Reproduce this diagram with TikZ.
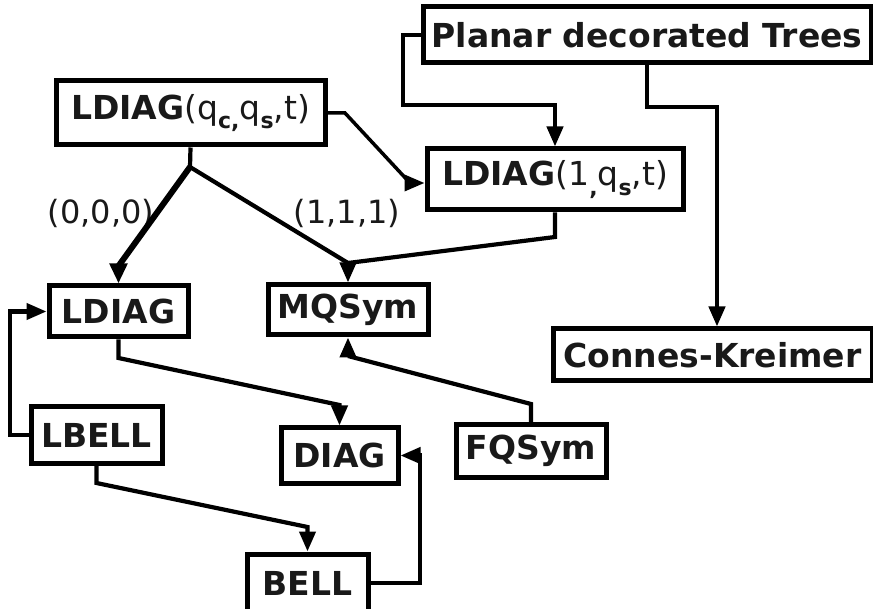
\documentclass[tikz,border=0pt]{standalone}
\usepackage{fontspec}
\setmainfont{DejaVu Sans}
\usetikzlibrary{arrows.meta}
\newcommand\mysubs[1]{\raisebox{-0.3em}{\fontsize{22}{24}\bfseries\selectfont #1}}
\begin{document}
\begin{tikzpicture}[x=1pt,y=-1pt,
  box/.style={draw,line width=5pt,inner sep=0pt,text=black!90,
    font=\fontsize{33}{40}\bfseries\selectfont},
  lab/.style={inner sep=0pt,text=black!90,font=\fontsize{32}{38}\selectfont},
  conn/.style={line width=4.2pt,line join=miter},
  arr/.style={conn,-{Triangle[length=20pt,width=16pt]}},
  fat/.style={line width=6pt,-{Triangle[length=20pt,width=17pt]}}]
\clip (0,0) rectangle (873,609);
\fill[white] (0,0) rectangle (873,609);
% boxes
\node[box,minimum width=448pt,minimum height=56pt] (planar) at (647,35) {Planar decorated Trees};
\node[box,minimum width=269pt,minimum height=64pt] (ldqc) at (190.5,113)
  {LDIAG{\mdseries(q\mysubs{c,}q\mysubs{s},t)}};
\node[box,minimum width=256pt,minimum height=61pt] (ld1) at (555,179.5)
  {LDIAG{\mdseries(1\mysubs{,}q\mysubs{s},t)}};
\node[box,minimum width=139pt,minimum height=51pt] (ldiag) at (118.5,311.5) {LDIAG};
\node[box,minimum width=160pt,minimum height=50pt] (mqsym) at (348,310) {MQSym};
\node[box,minimum width=319pt,minimum height=52pt] (ck) at (712.5,355) {Connes-Kreimer};
\node[box,minimum width=131pt,minimum height=56pt] (lbell) at (96.5,435) {LBELL};
\node[box,minimum width=117pt,minimum height=55pt] (diag) at (339.5,455.5) {DIAG};
\node[box,minimum width=150pt,minimum height=52pt] (fqsym) at (531,451) {FQSym};
\node[box,minimum width=121pt,minimum height=58pt] (bell) at (307.5,583) {BELL};
% labels
\node[lab] (l0) at (101,213) {(0,0,0)};
\node[lab] (l1) at (347,213) {(1,1,1)};
% junction coordinates
\coordinate (br) at (190,167);
\coordinate (jm) at (348,263);
% connectors
\draw[arr] (planar.west) -- (403,35) -- (403,105) -- (555,105) -- (ld1.north);
\draw[arr] (planar.south) -- (647,107) -- (717,107) -- (ck.north -| 717,0);
\draw[arr,line width=3.5pt] (ldqc.east) -- (345,113) -- (410,183) -- (ld1.west |- 0,183);
\draw[conn] (ldqc.south) -- (br);
\draw[fat] (br) -- (118.5,266) -- (ldiag.north);
\draw[arr] (br) -- (jm) -- (mqsym.north);
\draw[conn] (ld1.south) -- (555,237) -- (jm);
\draw[arr] (ldiag.south) -- (118.5,358) -- (339.5,405) -- (diag.north);
\draw[arr] (lbell.west) -- (10,435) -- (10,311.5) -- (ldiag.west);
\draw[arr] (lbell.south) -- (96.5,483) -- (307.5,527) -- (bell.north);
\draw[arr] (bell.east) -- (420,583) -- (420,455.5) -- (diag.east);
\draw[arr] (fqsym.north) -- (531,404) -- (348,356) -- (mqsym.south);
\end{tikzpicture}
\end{document}
